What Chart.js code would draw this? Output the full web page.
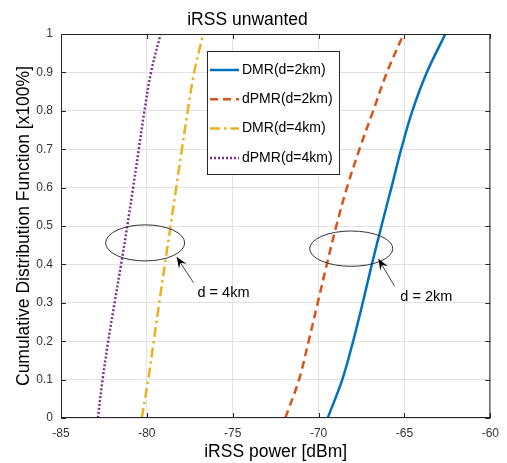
<!DOCTYPE html>
<html>
<head>
<meta charset="utf-8">
<script src="https://cdn.jsdelivr.net/npm/chart.js@4.4.1/dist/chart.umd.min.js"></script>
<style>
  html, body { margin: 0; padding: 0; background: #fff; }
  #wrap { width: 507px; height: 463px; }
</style>
</head>
<body>
<div id="wrap"><canvas id="cdfChart" width="507" height="463"></canvas></div>
<script>
// CDF levels (y) and the iRSS value (x, dBm) read at each level
const cdfLevels = [0, 0.1, 0.2, 0.3, 0.4, 0.5, 0.6, 0.7, 0.8, 0.9, 1];
const dmr2km  = [-69.47, -68.62, -67.99, -67.43, -66.90, -66.34, -65.76, -65.19, -64.54, -63.70, -62.62];
const dpmr2km = [-71.94, -71.14, -70.58, -70.05, -69.52, -68.97, -68.35, -67.62, -66.82, -66.02, -65.05];
const dmr4km  = [-80.30, -79.92, -79.60, -79.28, -78.95, -78.62, -78.29, -77.96, -77.62, -77.25, -76.72];
const dpmr4km = [-82.85, -82.58, -82.25, -81.88, -81.50, -81.14, -80.80, -80.47, -80.14, -79.76, -79.20];

const seriesLabels = ['DMR(d=2km)', 'dPMR(d=2km)', 'DMR(d=4km)', 'dPMR(d=4km)'];
const xTicks = [-85, -80, -75, -70, -65, -60];

// annotations, in data coordinates: ellipse [cx, cy, rx, ry], arrow [tailX, tailY, headX, headY], label [x, y, text]
const ellipses = [[-80.1, 0.456, 2.3, 0.047], [-68.1, 0.441, 2.42, 0.046]];
const arrows = [[-77.28, 0.352, -78.26, 0.419], [-65.59, 0.344, -66.51, 0.414]];
const notes = [[-77.05, 0.326, 'd = 4km'], [-65.24, 0.315, 'd = 2km']];

const FONT = "'Liberation Sans', Arial, sans-serif";

function toPoints(xs) {
  return xs.map((x, i) => ({ x: x, y: cdfLevels[i] }));
}

const styles = [
  { color: '#0072BD', dash: [] },
  { color: '#D95319', dash: [8, 5] },
  { color: '#EDB120', dash: [10, 4, 2.5, 4] },
  { color: '#7E2F8E', dash: [2, 2] }
];

const datasets = [dmr2km, dpmr2km, dmr4km, dpmr4km].map((xs, i) => ({
  label: seriesLabels[i],
  data: toPoints(xs),
  borderColor: styles[i].color,
  backgroundColor: styles[i].color,
  borderDash: styles[i].dash,
  borderWidth: 2.5,
  borderCapStyle: 'butt',
  pointRadius: 0,
  tension: 0.35,
  fill: false
}));

// frame, inward ticks, ellipses, arrows and the legend box
const extras = {
  id: 'extras',
  afterDatasetsDraw(chart) {
    const { ctx, chartArea: a, scales: { x, y } } = chart;
    ctx.save();

    // box + inward ticks
    ctx.strokeStyle = '#262626';
    ctx.lineWidth = 1;
    ctx.setLineDash([]);
    ctx.strokeRect(a.left + 0.5, a.top + 0.5, a.right - a.left - 1, a.bottom - a.top - 1);
    const tl = 5;
    ctx.beginPath();
    xTicks.forEach(v => {
      const px = Math.round(x.getPixelForValue(v)) + 0.5;
      ctx.moveTo(px, a.bottom); ctx.lineTo(px, a.bottom - tl);
      ctx.moveTo(px, a.top); ctx.lineTo(px, a.top + tl);
    });
    cdfLevels.forEach(v => {
      const py = Math.round(y.getPixelForValue(v)) + 0.5;
      ctx.moveTo(a.left, py); ctx.lineTo(a.left + tl, py);
      ctx.moveTo(a.right, py); ctx.lineTo(a.right - tl, py);
    });
    ctx.stroke();

    // ellipses
    ctx.strokeStyle = '#333';
    ctx.lineWidth = 1;
    ellipses.forEach(([cx, cy, rx, ry]) => {
      const px = x.getPixelForValue(cx), py = y.getPixelForValue(cy);
      const prx = Math.abs(x.getPixelForValue(cx + rx) - px);
      const pry = Math.abs(y.getPixelForValue(cy + ry) - py);
      ctx.beginPath();
      ctx.ellipse(px, py, prx, pry, 0, 0, Math.PI * 2);
      ctx.stroke();
    });

    // arrows
    arrows.forEach(([tx, ty, hx, hy]) => {
      const x0 = x.getPixelForValue(tx), y0 = y.getPixelForValue(ty);
      const x1 = x.getPixelForValue(hx), y1 = y.getPixelForValue(hy);
      const ang = Math.atan2(y1 - y0, x1 - x0);
      ctx.strokeStyle = '#444';
      ctx.beginPath();
      ctx.moveTo(x0, y0); ctx.lineTo(x1, y1);
      ctx.stroke();
      const L = 11, W = 4.5;
      ctx.fillStyle = '#000';
      ctx.beginPath();
      ctx.moveTo(x1, y1);
      ctx.lineTo(x1 - L * Math.cos(ang) + W * Math.sin(ang), y1 - L * Math.sin(ang) - W * Math.cos(ang));
      ctx.lineTo(x1 - 0.6 * L * Math.cos(ang), y1 - 0.6 * L * Math.sin(ang));
      ctx.lineTo(x1 - L * Math.cos(ang) - W * Math.sin(ang), y1 - L * Math.sin(ang) + W * Math.cos(ang));
      ctx.closePath();
      ctx.fill();
    });

    ctx.fillStyle = '#000';
    ctx.font = '14.5px ' + FONT;
    ctx.textAlign = 'left';
    ctx.textBaseline = 'middle';
    notes.forEach(([nx, ny, t]) => {
      ctx.fillText(t, x.getPixelForValue(nx), y.getPixelForValue(ny));
    });

    // legend
    const lx = a.left + 146, ly = a.top + 17, lw = 132, lh = 123;
    ctx.fillStyle = '#fff';
    ctx.fillRect(lx, ly, lw, lh);
    ctx.strokeStyle = '#262626';
    ctx.strokeRect(lx + 0.5, ly + 0.5, lw, lh);
    ctx.font = '14px ' + FONT;
    chart.data.datasets.forEach((ds, i) => {
      const ry = ly + 19 + i * 29.3;
      ctx.strokeStyle = ds.borderColor;
      ctx.lineWidth = 2.5;
      ctx.setLineDash(ds.borderDash);
      ctx.beginPath();
      ctx.moveTo(lx + 3, ry); ctx.lineTo(lx + 32, ry);
      ctx.stroke();
      ctx.setLineDash([]);
      ctx.fillStyle = '#000';
      ctx.fillText(ds.label, lx + 35, ry);
    });

    ctx.restore();
  }
};

const ctx = document.getElementById('cdfChart').getContext('2d');
new Chart(ctx, {
  type: 'line',
  data: { datasets: datasets },
  options: {
    responsive: false,
    animation: false,
    layout: { padding: { left: 0, right: 12, top: 0, bottom: 0 } },
    plugins: {
      legend: { display: false },
      tooltip: { enabled: false },
      title: {
        display: true,
        text: 'iRSS unwanted',
        color: '#000',
        font: { family: FONT, size: 17.5, weight: 'normal', lineHeight: 1.2 },
        padding: { top: 9.5, bottom: 3.5 }
      }
    },
    scales: {
      x: {
        type: 'linear',
        min: -85,
        max: -60,
        afterFit: s => { s.height = 45; },
        afterBuildTicks: s => { s.ticks = xTicks.map(v => ({ value: v })); },
        grid: { color: '#e2e2e2', drawTicks: false },
        border: { display: false },
        ticks: { color: '#333', font: { family: FONT, size: 12 }, padding: 8, maxRotation: 0, callback: v => String(v) },
        title: {
          display: true,
          text: 'iRSS power [dBm]',
          color: '#000',
          font: { family: FONT, size: 17.5, lineHeight: 1.2 },
          padding: { top: 0, bottom: 0 }
        }
      },
      y: {
        type: 'linear',
        min: 0,
        max: 1,
        afterFit: s => { s.width = 61; },
        afterBuildTicks: s => { s.ticks = cdfLevels.map(v => ({ value: v })); },
        grid: { color: '#e2e2e2', drawTicks: false },
        border: { display: false },
        ticks: { color: '#333', font: { family: FONT, size: 12 }, padding: 8, callback: v => String(v) },
        title: {
          display: true,
          text: 'Cumulative Distribution Function [x100%]',
          color: '#000',
          font: { family: FONT, size: 17.5, lineHeight: 1.2 },
          padding: { top: 13.5, bottom: 0 }
        }
      }
    }
  },
  plugins: [extras]
});
</script>
</body>
</html>
